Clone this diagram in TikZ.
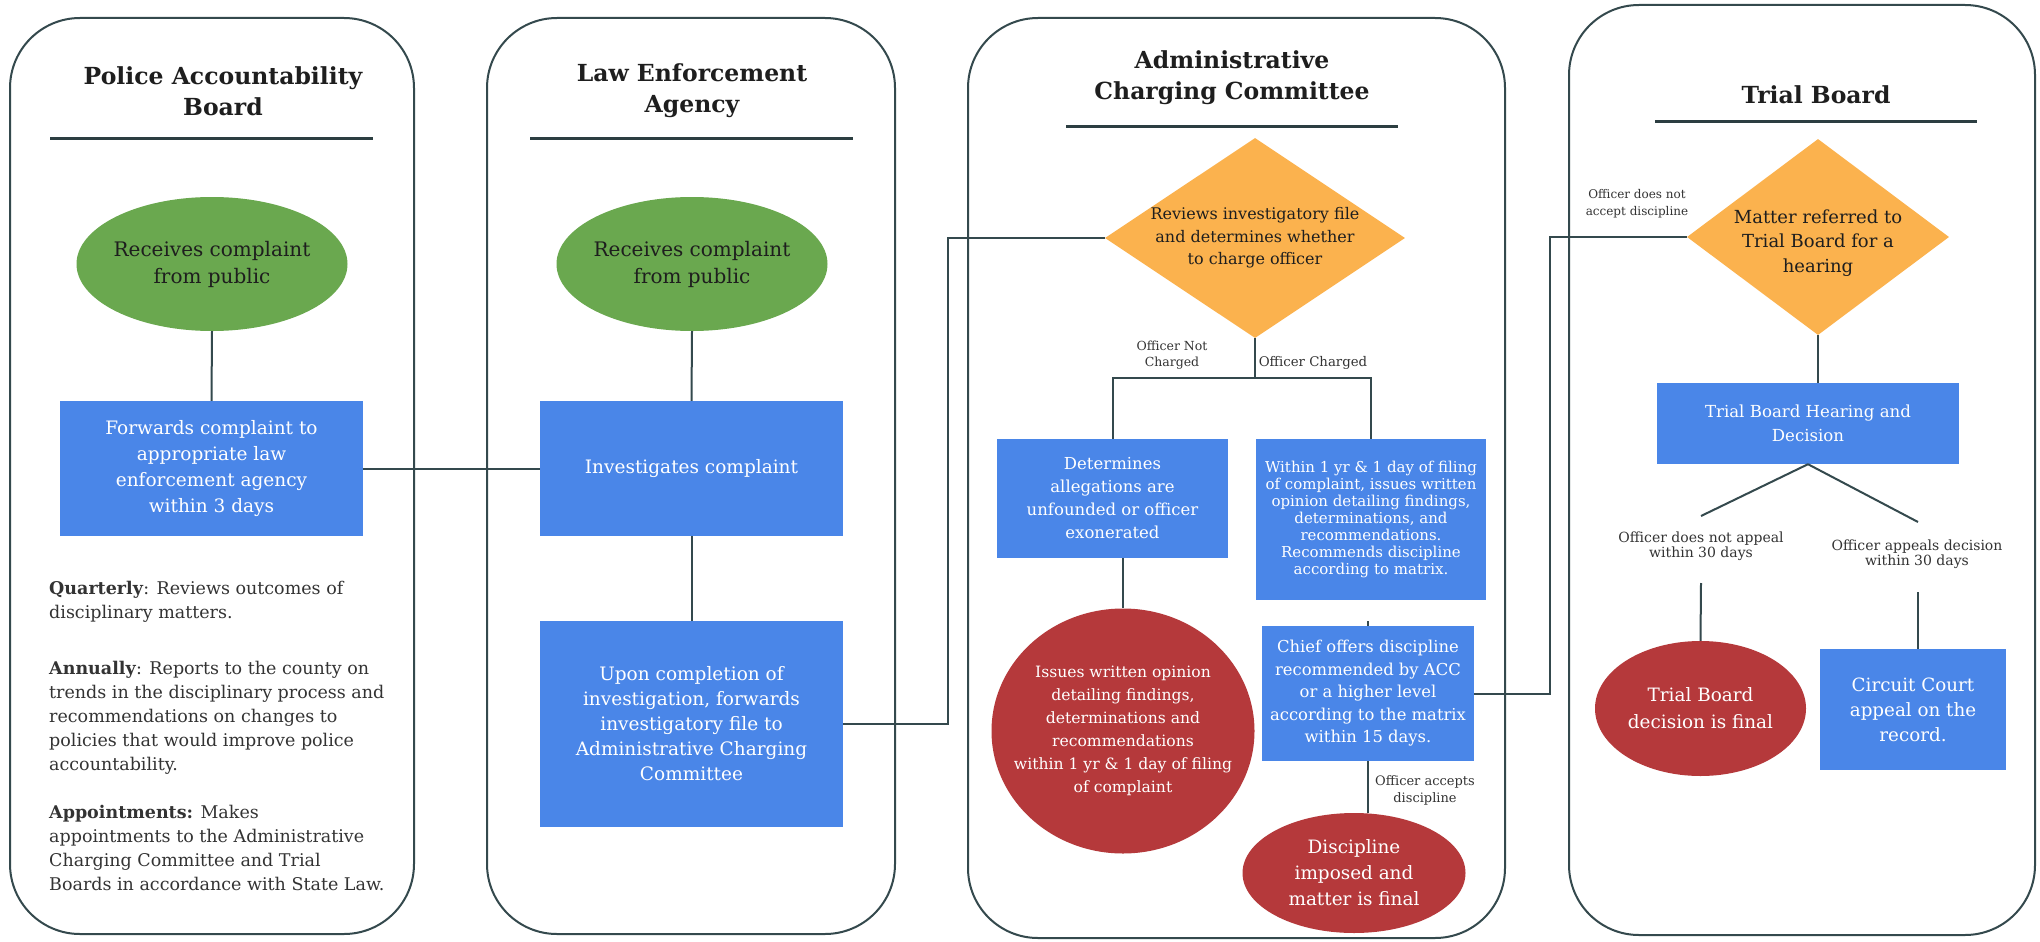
\documentclass[tikz,border=0pt]{standalone}
\usepackage{fontspec}
\setmainfont{DejaVu Serif}
\usetikzlibrary{shapes.geometric,calc}
\definecolor{gfill}{HTML}{6AA84F}
\definecolor{bfill}{HTML}{4A86E8}
\definecolor{ofill}{HTML}{FBB24E}
\definecolor{rfill}{HTML}{B5393B}
\definecolor{lanec}{HTML}{34494D}
\definecolor{linec}{HTML}{34494D}
\definecolor{ink}{HTML}{1E1E1E}
\definecolor{gink}{HTML}{333333}
\newcommand{\fsz}[2]{\fontsize{#1}{#2}\selectfont}
\begin{document}
\begin{tikzpicture}[x=1pt,y=-1pt,
  lane/.style={draw=lanec, line width=2pt, rounded corners=70pt},
  ttl/.style={font=\bfseries\fsz{23.5}{31}, align=center, text=ink, inner sep=0pt},
  uline/.style={draw=lanec!85!black, line width=3pt},
  conn/.style={draw=linec, line width=2pt},
  gell/.style={ellipse, fill=gfill, inner sep=0pt},
  rell/.style={ellipse, fill=rfill, inner sep=0pt},
  bbox/.style={rectangle, fill=bfill, inner sep=0pt, text=white, align=center},
  dia/.style={diamond, fill=ofill, inner sep=0pt},
  lbl/.style={align=center, text=gink, inner sep=0pt},
  para/.style={align=left, text=gink, inner sep=0pt, anchor=north west, font=\fsz{17.5}{24}}
]
\useasboundingbox (0,0) rectangle (2040,942);
\fill[white] (0,0) rectangle (2040,942);

% lanes
\draw[lane] (10,18) rectangle (414,934);
\draw[lane] (487,18) rectangle (895,934);
\draw[lane] (968,18) rectangle (1505,938);
\draw[lane] (1569,5) rectangle (2035,935);

% titles
\node[ttl] (t1) at (223,91) {Police Accountability\\Board};
\draw[uline] (50,138) -- (373,138);
\node[ttl] (t2) at (692,91) {Law Enforcement\\Agency};
\draw[uline] (530,138) -- (853,138);
\node[ttl] (t3) at (1232,78) {Administrative\\Charging Committee};
\draw[uline] (1066,126) -- (1398,126);
\node[ttl] (t4) at (1816,95) {Trial Board};
\draw[uline] (1655,121) -- (1977,121);

% lane 1
\node[gell, minimum width=271pt, minimum height=134pt,
  label={[font=\fsz{20}{27}, text=ink, align=center]center:{Receives complaint\\from public}}] (e1) at (212,264) {};
\node[bbox, minimum width=303pt, minimum height=135pt, font=\fsz{18.5}{26}] (b1) at (211.5,468.5)
  {Forwards complaint to\\appropriate law\\enforcement agency\\within 3 days};
\node[para] (p1) at (49,581) {\textbf{Quarterly}: Reviews outcomes of\\disciplinary matters.};
\node[para] (p2) at (49,661) {\textbf{Annually}: Reports to the county on\\trends in the disciplinary process and\\recommendations on changes to\\policies that would improve police\\accountability.};
\node[para] (p3) at (49,805) {\textbf{Appointments:} Makes\\appointments to the Administrative\\Charging Committee and Trial\\Boards in accordance with State Law.};

% lane 2
\node[gell, minimum width=271pt, minimum height=134pt,
  label={[font=\fsz{20}{27}, text=ink, align=center]center:{Receives complaint\\from public}}] (e2) at (692,264) {};
\node[bbox, minimum width=303pt, minimum height=135pt, font=\fsz{18.5}{26}] (b2) at (691.5,468.5)
  {Investigates complaint};
\node[bbox, minimum width=303pt, minimum height=206pt, font=\fsz{18.5}{25}] (b3) at (691.5,724)
  {Upon completion of\\investigation, forwards\\investigatory file to\\Administrative Charging\\Committee};

% lane 3
\node[dia, minimum width=300pt, minimum height=200pt,
  label={[font=\fsz{16}{22.5}, text=ink, align=center]center:{Reviews investigatory file\\and determines whether\\to charge officer}}] (d1) at (1255,238) {};
\node[bbox, minimum width=231pt, minimum height=119pt, font=\fsz{16.5}{23}] (bL) at (1112.5,498.5)
  {Determines\\allegations are\\unfounded or officer\\exonerated};
\node[bbox, minimum width=230pt, minimum height=161pt, font=\fsz{15}{17}] (bR) at (1371,519.5)
  {Within 1 yr \& 1 day of filing\\of complaint, issues written\\opinion detailing findings,\\determinations, and\\recommendations.\\Recommends discipline\\according to matrix.};
\node[rell, minimum width=263pt, minimum height=245pt,
  label={[font=\fsz{15.6}{23}, text=white, align=center]center:{Issues written opinion\\detailing findings,\\determinations and\\recommendations\\within 1 yr \& 1 day of filing\\of complaint}}] (c1) at (1123,731) {};
\node[bbox, minimum width=212pt, minimum height=135pt, font=\fsz{16.4}{22.5}] (ch) at (1368,693.5)
  {Chief offers discipline\\recommended by ACC\\or a higher level\\according to the matrix\\within 15 days.};
\node[rell, minimum width=223pt, minimum height=120pt,
  label={[font=\fsz{18.4}{26}, text=white, align=center]center:{Discipline\\imposed and\\matter is final}}] (e3) at (1354,873) {};
\node[lbl, font=\fsz{12.5}{16}] (lnc) at (1172,355) {Officer Not\\Charged};
\node[lbl, font=\fsz{13.3}{16}] (lc) at (1313,363) {Officer Charged};
\node[lbl, font=\fsz{13}{17}] (lacc) at (1425,790) {Officer accepts\\discipline};

% lane 4
\node[dia, minimum width=262pt, minimum height=196pt,
  label={[font=\fsz{18}{24.5}, text=ink, align=center, yshift=-6pt]center:{Matter referred to\\Trial Board for a\\hearing}}] (d2) at (1818,237) {};
\node[lbl, font=\fsz{12}{17}] (lna) at (1637,204) {Officer does not\\accept discipline};
\node[bbox, minimum width=302pt, minimum height=81pt, font=\fsz{16.6}{24}] (tb) at (1808,423.5)
  {Trial Board Hearing and\\Decision};
\node[lbl, font=\fsz{14}{15}] (lnap) at (1701,546) {Officer does not appeal\\within 30 days};
\node[lbl, font=\fsz{14}{15}] (lap) at (1917,554) {Officer appeals decision\\within 30 days};
\node[rell, minimum width=211pt, minimum height=135pt,
  label={[font=\fsz{18.4}{27}, text=white, align=center]center:{Trial Board\\decision is final}}] (e4) at (1700.5,708.5) {};
\node[bbox, minimum width=186pt, minimum height=121pt, font=\fsz{18.3}{25}] (cc) at (1913,709.5)
  {Circuit Court\\appeal on the\\record.};

% connectors
\draw[conn] (e1.south) -- (b1.north);
\draw[conn] (b1.east) -- (b2.west);
\draw[conn] (e2.south) -- (b2.north);
\draw[conn] (b2.south) -- (b3.north);
\draw[conn] (b3.east) -- ++(105,0) |- (d1.west);
\coordinate (split) at (1255,378);
\draw[conn] (d1.south) -- (split);
\draw[conn] (split) -| (bL.north);
\draw[conn] (split) -| (bR.north);
\draw[conn] (c1.north |- bL.south) -- (c1.north);
\draw[conn] (ch.north) -- ++(0,-5);
\draw[conn] (ch.south) -- (ch.south |- e3.north);
\draw[conn] (ch.east) -- ++(76,0) |- (d2.west);
\draw[conn] (d2.south) -- (d2.south |- tb.north);
\coordinate (fa) at (1701,516);
\coordinate (fb) at (1918,522);
\draw[conn] (tb.south) -- (fa);
\draw[conn] (tb.south) -- (fb);
\coordinate (ga) at (1701,583);
\coordinate (gb) at (1918,592);
\draw[conn] (ga) -- (e4.north);
\draw[conn] (gb) -- (gb |- cc.north);
\end{tikzpicture}
\end{document}
